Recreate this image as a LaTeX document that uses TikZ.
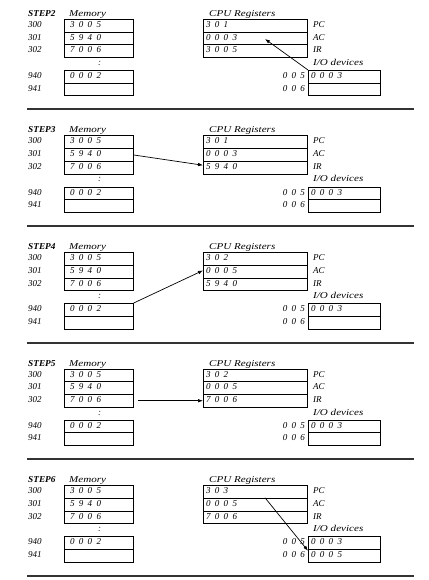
\documentclass[tikz,border=0pt]{standalone}
\usepackage{fontspec}
\setmainfont{Liberation Serif}
\newfontfamily\widefont{Liberation Serif}[FakeStretch=1.23]
\newfontfamily\stepfont{Liberation Serif}[FakeStretch=1.03]
\newfontfamily\digfont{Liberation Serif}[WordSpace=1.9]
\usetikzlibrary{arrows.meta}
\tikzset{
  cell/.style={draw, line width=0.7pt, inner sep=0pt, minimum height=12.75pt, anchor=north west},
  memcell/.style={cell, minimum width=69pt},
  cpucell/.style={cell, minimum width=104pt},
  iocell/.style={cell, minimum width=72pt},
  txt/.style={inner sep=0pt, anchor=base west, font=\fontsize{9}{11}\selectfont\itshape},
  wtxt/.style={txt, font=\fontsize{9}{11}\selectfont\widefont\itshape},
  dtxt/.style={txt, font=\fontsize{9}{11}\selectfont\digfont\itshape},
  steplbl/.style={txt, font=\fontsize{9}{11}\selectfont\stepfont\bfseries\itshape},
  seprule/.style={line width=2pt, black!80},
  flow/.style={line width=0.7pt, -{Latex[length=5pt,width=3.6pt]}}
}
\newcommand\cpustep[6]{%
  % #1 id, #2 top, #3 PC, #4 AC, #5 IR, #6 I/O 006
  \node[steplbl] (title#1) at (28,#2-2.5) {STEP#1};
  \node[wtxt] (memlbl#1) at (69,#2-2.5) {Memory};
  \node[memcell] (ma#1) at (64,#2) {};
  \node[memcell] (mb#1) at (64,#2+12.75) {};
  \node[memcell] (mc#1) at (64,#2+25.5) {};
  \node[memcell] (md#1) at (64,#2+51) {};
  \node[memcell] (me#1) at (64,#2+63.75) {};
  \node[txt] (aa#1) at (28,#2+8.5) {300};
  \node[txt] (ab#1) at (28,#2+21.25) {301};
  \node[txt] (ac#1) at (28,#2+34) {302};
  \node[txt] (ad#1) at (28,#2+59.5) {940};
  \node[txt] (ae#1) at (28,#2+72.25) {941};
  \node[dtxt] (va#1) at (70,#2+8.5) {3 0 0 5};
  \node[dtxt] (vb#1) at (70,#2+21.25) {5 9 4 0};
  \node[dtxt] (vc#1) at (70,#2+34) {7 0 0 6};
  \node[dtxt] (vd#1) at (70,#2+59.5) {0 0 0 2};
  \node[txt] (dots#1) at (98,#2+46.5) {:};
  \node[wtxt] (cpulbl#1) at (209,#2-2.5) {CPU Registers};
  \node[cpucell] (pc#1) at (203,#2) {};
  \node[cpucell] (acc#1) at (203,#2+12.75) {};
  \node[cpucell] (ir#1) at (203,#2+25.5) {};
  \node[dtxt] (vpc#1) at (206,#2+8.5) {#3};
  \node[dtxt] (vac#1) at (206,#2+21.25) {#4};
  \node[dtxt] (vir#1) at (206,#2+34) {#5};
  \node[txt] (lpc#1) at (313,#2+8.5) {PC};
  \node[txt] (lac#1) at (313,#2+21.25) {AC};
  \node[txt] (lir#1) at (313,#2+34) {IR};
  \node[wtxt] (iolbl#1) at (313,#2+46.5) {I/O devices};
  \node[iocell] (ioa#1) at (308,#2+51) {};
  \node[iocell] (iob#1) at (308,#2+63.75) {};
  \node[dtxt, anchor=base east] (la#1) at (305,#2+59.5) {0 0 5};
  \node[dtxt, anchor=base east] (lb#1) at (305,#2+72.25) {0 0 6};
  \node[dtxt] (vioa#1) at (311,#2+59.5) {0 0 0 3};
  \node[dtxt] (viob#1) at (311,#2+72.25) {#6};
  \draw[seprule] (27,#2+90.5) -- (414,#2+90.5);
}
\begin{document}
\begin{tikzpicture}[x=1pt,y=-1pt]
\useasboundingbox (0,0) rectangle (428,580);
\cpustep{2}{19}{3 0 1}{0 0 0 3}{3 0 0 5}{}
\cpustep{3}{135.5}{3 0 1}{0 0 0 3}{5 9 4 0}{}
\cpustep{4}{252}{3 0 2}{0 0 0 5}{5 9 4 0}{}
\cpustep{5}{368.5}{3 0 2}{0 0 0 5}{7 0 0 6}{}
\cpustep{6}{485}{3 0 3}{0 0 0 5}{7 0 0 6}{0 0 0 5}
% arrows
\coordinate (t2) at (265,39);
\draw[flow] (ioa2.north west) -- (t2);
\draw[flow] (mb3.east) -- ([yshift=2.5pt]ir3.west);
\draw[flow] (md4.north east) -- ([yshift=1pt]acc4.west);
\draw[flow] ([xshift=4pt]mc5.east) -- (ir5.west);
\coordinate (s6) at (265,497.75);
\draw[flow] (s6) -- ([yshift=-2pt]iob6.north west);
\end{tikzpicture}
\end{document}
